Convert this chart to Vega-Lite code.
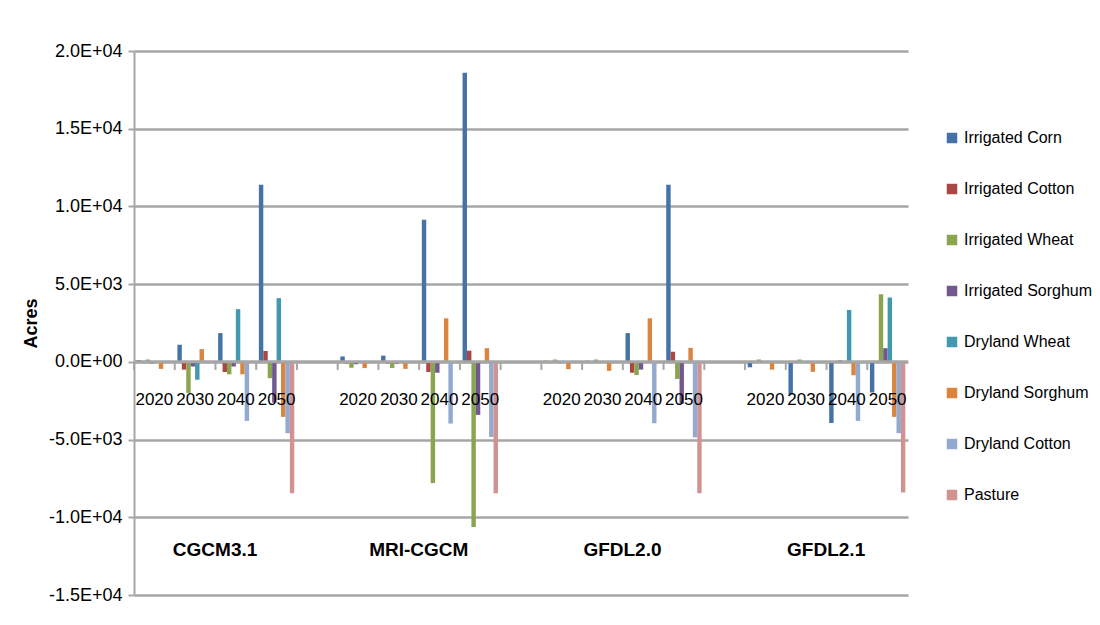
{
  "$schema": "https://vega.github.io/schema/vega-lite/v6.json",
  "width": 774,
  "height": 544,
  "padding": {"left": 22, "top": 42, "right": 5, "bottom": 5},
  "background": "white",
  "config": {
    "view": {"stroke": null},
    "font": "Liberation Sans"
  },
  "layer": [
    {
      "data": {
        "values": [
          {"model": "CGCM3.1", "year": "2020", "crop": "Irrigated Corn", "acres": 120},
          {"model": "CGCM3.1", "year": "2020", "crop": "Irrigated Cotton", "acres": -80},
          {"model": "CGCM3.1", "year": "2020", "crop": "Irrigated Wheat", "acres": 150},
          {"model": "CGCM3.1", "year": "2020", "crop": "Irrigated Sorghum", "acres": -100},
          {"model": "CGCM3.1", "year": "2020", "crop": "Dryland Wheat", "acres": 60},
          {"model": "CGCM3.1", "year": "2020", "crop": "Dryland Sorghum", "acres": -450},
          {"model": "CGCM3.1", "year": "2020", "crop": "Dryland Cotton", "acres": -60},
          {"model": "CGCM3.1", "year": "2020", "crop": "Pasture", "acres": -40},
          {"model": "CGCM3.1", "year": "2030", "crop": "Irrigated Corn", "acres": 1100},
          {"model": "CGCM3.1", "year": "2030", "crop": "Irrigated Cotton", "acres": -500},
          {"model": "CGCM3.1", "year": "2030", "crop": "Irrigated Wheat", "acres": -2000},
          {"model": "CGCM3.1", "year": "2030", "crop": "Irrigated Sorghum", "acres": -300},
          {"model": "CGCM3.1", "year": "2030", "crop": "Dryland Wheat", "acres": -1150},
          {"model": "CGCM3.1", "year": "2030", "crop": "Dryland Sorghum", "acres": 820},
          {"model": "CGCM3.1", "year": "2030", "crop": "Dryland Cotton", "acres": -100},
          {"model": "CGCM3.1", "year": "2030", "crop": "Pasture", "acres": 50},
          {"model": "CGCM3.1", "year": "2040", "crop": "Irrigated Corn", "acres": 1850},
          {"model": "CGCM3.1", "year": "2040", "crop": "Irrigated Cotton", "acres": -650},
          {"model": "CGCM3.1", "year": "2040", "crop": "Irrigated Wheat", "acres": -800},
          {"model": "CGCM3.1", "year": "2040", "crop": "Irrigated Sorghum", "acres": -300},
          {"model": "CGCM3.1", "year": "2040", "crop": "Dryland Wheat", "acres": 3390},
          {"model": "CGCM3.1", "year": "2040", "crop": "Dryland Sorghum", "acres": -800},
          {"model": "CGCM3.1", "year": "2040", "crop": "Dryland Cotton", "acres": -3800},
          {"model": "CGCM3.1", "year": "2040", "crop": "Pasture", "acres": -50},
          {"model": "CGCM3.1", "year": "2050", "crop": "Irrigated Corn", "acres": 11400},
          {"model": "CGCM3.1", "year": "2050", "crop": "Irrigated Cotton", "acres": 700},
          {"model": "CGCM3.1", "year": "2050", "crop": "Irrigated Wheat", "acres": -1050},
          {"model": "CGCM3.1", "year": "2050", "crop": "Irrigated Sorghum", "acres": -2620},
          {"model": "CGCM3.1", "year": "2050", "crop": "Dryland Wheat", "acres": 4100},
          {"model": "CGCM3.1", "year": "2050", "crop": "Dryland Sorghum", "acres": -3540},
          {"model": "CGCM3.1", "year": "2050", "crop": "Dryland Cotton", "acres": -4590},
          {"model": "CGCM3.1", "year": "2050", "crop": "Pasture", "acres": -8450},
          {"model": "MRI-CGCM", "year": "2020", "crop": "Irrigated Corn", "acres": 350},
          {"model": "MRI-CGCM", "year": "2020", "crop": "Irrigated Cotton", "acres": -100},
          {"model": "MRI-CGCM", "year": "2020", "crop": "Irrigated Wheat", "acres": -380},
          {"model": "MRI-CGCM", "year": "2020", "crop": "Irrigated Sorghum", "acres": -150},
          {"model": "MRI-CGCM", "year": "2020", "crop": "Dryland Wheat", "acres": -50},
          {"model": "MRI-CGCM", "year": "2020", "crop": "Dryland Sorghum", "acres": -400},
          {"model": "MRI-CGCM", "year": "2020", "crop": "Dryland Cotton", "acres": -80},
          {"model": "MRI-CGCM", "year": "2020", "crop": "Pasture", "acres": -60},
          {"model": "MRI-CGCM", "year": "2030", "crop": "Irrigated Corn", "acres": 400},
          {"model": "MRI-CGCM", "year": "2030", "crop": "Irrigated Cotton", "acres": -100},
          {"model": "MRI-CGCM", "year": "2030", "crop": "Irrigated Wheat", "acres": -400},
          {"model": "MRI-CGCM", "year": "2030", "crop": "Irrigated Sorghum", "acres": -120},
          {"model": "MRI-CGCM", "year": "2030", "crop": "Dryland Wheat", "acres": -60},
          {"model": "MRI-CGCM", "year": "2030", "crop": "Dryland Sorghum", "acres": -450},
          {"model": "MRI-CGCM", "year": "2030", "crop": "Dryland Cotton", "acres": -60},
          {"model": "MRI-CGCM", "year": "2030", "crop": "Pasture", "acres": -50},
          {"model": "MRI-CGCM", "year": "2040", "crop": "Irrigated Corn", "acres": 9150},
          {"model": "MRI-CGCM", "year": "2040", "crop": "Irrigated Cotton", "acres": -650},
          {"model": "MRI-CGCM", "year": "2040", "crop": "Irrigated Wheat", "acres": -7800},
          {"model": "MRI-CGCM", "year": "2040", "crop": "Irrigated Sorghum", "acres": -700},
          {"model": "MRI-CGCM", "year": "2040", "crop": "Dryland Wheat", "acres": -50},
          {"model": "MRI-CGCM", "year": "2040", "crop": "Dryland Sorghum", "acres": 2800},
          {"model": "MRI-CGCM", "year": "2040", "crop": "Dryland Cotton", "acres": -3970},
          {"model": "MRI-CGCM", "year": "2040", "crop": "Pasture", "acres": -80},
          {"model": "MRI-CGCM", "year": "2050", "crop": "Irrigated Corn", "acres": 18600},
          {"model": "MRI-CGCM", "year": "2050", "crop": "Irrigated Cotton", "acres": 720},
          {"model": "MRI-CGCM", "year": "2050", "crop": "Irrigated Wheat", "acres": -10620},
          {"model": "MRI-CGCM", "year": "2050", "crop": "Irrigated Sorghum", "acres": -3410},
          {"model": "MRI-CGCM", "year": "2050", "crop": "Dryland Wheat", "acres": -50},
          {"model": "MRI-CGCM", "year": "2050", "crop": "Dryland Sorghum", "acres": 880},
          {"model": "MRI-CGCM", "year": "2050", "crop": "Dryland Cotton", "acres": -4830},
          {"model": "MRI-CGCM", "year": "2050", "crop": "Pasture", "acres": -8450},
          {"model": "GFDL2.0", "year": "2020", "crop": "Irrigated Corn", "acres": 80},
          {"model": "GFDL2.0", "year": "2020", "crop": "Irrigated Cotton", "acres": -60},
          {"model": "GFDL2.0", "year": "2020", "crop": "Irrigated Wheat", "acres": 150},
          {"model": "GFDL2.0", "year": "2020", "crop": "Irrigated Sorghum", "acres": -80},
          {"model": "GFDL2.0", "year": "2020", "crop": "Dryland Wheat", "acres": 60},
          {"model": "GFDL2.0", "year": "2020", "crop": "Dryland Sorghum", "acres": -470},
          {"model": "GFDL2.0", "year": "2020", "crop": "Dryland Cotton", "acres": -50},
          {"model": "GFDL2.0", "year": "2020", "crop": "Pasture", "acres": -40},
          {"model": "GFDL2.0", "year": "2030", "crop": "Irrigated Corn", "acres": 80},
          {"model": "GFDL2.0", "year": "2030", "crop": "Irrigated Cotton", "acres": -60},
          {"model": "GFDL2.0", "year": "2030", "crop": "Irrigated Wheat", "acres": 150},
          {"model": "GFDL2.0", "year": "2030", "crop": "Irrigated Sorghum", "acres": -60},
          {"model": "GFDL2.0", "year": "2030", "crop": "Dryland Wheat", "acres": 40},
          {"model": "GFDL2.0", "year": "2030", "crop": "Dryland Sorghum", "acres": -580},
          {"model": "GFDL2.0", "year": "2030", "crop": "Dryland Cotton", "acres": -40},
          {"model": "GFDL2.0", "year": "2030", "crop": "Pasture", "acres": -40},
          {"model": "GFDL2.0", "year": "2040", "crop": "Irrigated Corn", "acres": 1850},
          {"model": "GFDL2.0", "year": "2040", "crop": "Irrigated Cotton", "acres": -700},
          {"model": "GFDL2.0", "year": "2040", "crop": "Irrigated Wheat", "acres": -850},
          {"model": "GFDL2.0", "year": "2040", "crop": "Irrigated Sorghum", "acres": -500},
          {"model": "GFDL2.0", "year": "2040", "crop": "Dryland Wheat", "acres": -50},
          {"model": "GFDL2.0", "year": "2040", "crop": "Dryland Sorghum", "acres": 2800},
          {"model": "GFDL2.0", "year": "2040", "crop": "Dryland Cotton", "acres": -3950},
          {"model": "GFDL2.0", "year": "2040", "crop": "Pasture", "acres": -60},
          {"model": "GFDL2.0", "year": "2050", "crop": "Irrigated Corn", "acres": 11400},
          {"model": "GFDL2.0", "year": "2050", "crop": "Irrigated Cotton", "acres": 650},
          {"model": "GFDL2.0", "year": "2050", "crop": "Irrigated Wheat", "acres": -1100},
          {"model": "GFDL2.0", "year": "2050", "crop": "Irrigated Sorghum", "acres": -2700},
          {"model": "GFDL2.0", "year": "2050", "crop": "Dryland Wheat", "acres": -50},
          {"model": "GFDL2.0", "year": "2050", "crop": "Dryland Sorghum", "acres": 900},
          {"model": "GFDL2.0", "year": "2050", "crop": "Dryland Cotton", "acres": -4850},
          {"model": "GFDL2.0", "year": "2050", "crop": "Pasture", "acres": -8450},
          {"model": "GFDL2.1", "year": "2020", "crop": "Irrigated Corn", "acres": -350},
          {"model": "GFDL2.1", "year": "2020", "crop": "Irrigated Cotton", "acres": -60},
          {"model": "GFDL2.1", "year": "2020", "crop": "Irrigated Wheat", "acres": 150},
          {"model": "GFDL2.1", "year": "2020", "crop": "Irrigated Sorghum", "acres": -60},
          {"model": "GFDL2.1", "year": "2020", "crop": "Dryland Wheat", "acres": 60},
          {"model": "GFDL2.1", "year": "2020", "crop": "Dryland Sorghum", "acres": -500},
          {"model": "GFDL2.1", "year": "2020", "crop": "Dryland Cotton", "acres": -50},
          {"model": "GFDL2.1", "year": "2020", "crop": "Pasture", "acres": -40},
          {"model": "GFDL2.1", "year": "2030", "crop": "Irrigated Corn", "acres": -2080},
          {"model": "GFDL2.1", "year": "2030", "crop": "Irrigated Cotton", "acres": -60},
          {"model": "GFDL2.1", "year": "2030", "crop": "Irrigated Wheat", "acres": 150},
          {"model": "GFDL2.1", "year": "2030", "crop": "Irrigated Sorghum", "acres": -60},
          {"model": "GFDL2.1", "year": "2030", "crop": "Dryland Wheat", "acres": 50},
          {"model": "GFDL2.1", "year": "2030", "crop": "Dryland Sorghum", "acres": -640},
          {"model": "GFDL2.1", "year": "2030", "crop": "Dryland Cotton", "acres": -50},
          {"model": "GFDL2.1", "year": "2030", "crop": "Pasture", "acres": -40},
          {"model": "GFDL2.1", "year": "2040", "crop": "Irrigated Corn", "acres": -3930},
          {"model": "GFDL2.1", "year": "2040", "crop": "Irrigated Cotton", "acres": -60},
          {"model": "GFDL2.1", "year": "2040", "crop": "Irrigated Wheat", "acres": 120},
          {"model": "GFDL2.1", "year": "2040", "crop": "Irrigated Sorghum", "acres": -60},
          {"model": "GFDL2.1", "year": "2040", "crop": "Dryland Wheat", "acres": 3340},
          {"model": "GFDL2.1", "year": "2040", "crop": "Dryland Sorghum", "acres": -860},
          {"model": "GFDL2.1", "year": "2040", "crop": "Dryland Cotton", "acres": -3800},
          {"model": "GFDL2.1", "year": "2040", "crop": "Pasture", "acres": -40},
          {"model": "GFDL2.1", "year": "2050", "crop": "Irrigated Corn", "acres": -1970},
          {"model": "GFDL2.1", "year": "2050", "crop": "Irrigated Cotton", "acres": 60},
          {"model": "GFDL2.1", "year": "2050", "crop": "Irrigated Wheat", "acres": 4350},
          {"model": "GFDL2.1", "year": "2050", "crop": "Irrigated Sorghum", "acres": 880},
          {"model": "GFDL2.1", "year": "2050", "crop": "Dryland Wheat", "acres": 4140},
          {"model": "GFDL2.1", "year": "2050", "crop": "Dryland Sorghum", "acres": -3540},
          {"model": "GFDL2.1", "year": "2050", "crop": "Dryland Cotton", "acres": -4590},
          {"model": "GFDL2.1", "year": "2050", "crop": "Pasture", "acres": -8410}
        ]
      },
      "transform": [{"calculate": "datum.model + ' ' + datum.year", "as": "slot"}],
      "mark": {"type": "bar"},
      "encoding": {
        "x": {
          "field": "slot",
          "type": "nominal",
          "scale": {
            "domain": [
              "CGCM3.1 2020", "CGCM3.1 2030", "CGCM3.1 2040", "CGCM3.1 2050", "gap1",
              "MRI-CGCM 2020", "MRI-CGCM 2030", "MRI-CGCM 2040", "MRI-CGCM 2050", "gap2",
              "GFDL2.0 2020", "GFDL2.0 2030", "GFDL2.0 2040", "GFDL2.0 2050", "gap3",
              "GFDL2.1 2020", "GFDL2.1 2030", "GFDL2.1 2040", "GFDL2.1 2050"
            ],
            "paddingInner": 0,
            "paddingOuter": 0
          },
          "axis": null
        },
        "xOffset": {
          "field": "crop",
          "type": "nominal",
          "scale": {
            "domain": ["Irrigated Corn", "Irrigated Cotton", "Irrigated Wheat", "Irrigated Sorghum", "Dryland Wheat", "Dryland Sorghum", "Dryland Cotton", "Pasture"],
            "paddingInner": 0,
            "paddingOuter": 0.6
          }
        },
        "y": {
          "field": "acres",
          "type": "quantitative",
          "scale": {"domain": [-15000, 20000], "nice": false},
          "axis": {
            "values": [-15000, -10000, -5000, 0, 5000, 10000, 15000, 20000],
            "labelExpr": "datum.value == 20000 ? '2.0E+04' : datum.value == 15000 ? '1.5E+04' : datum.value == 10000 ? '1.0E+04' : datum.value == 5000 ? '5.0E+03' : datum.value == 0 ? '0.0E+00' : datum.value == -5000 ? '-5.0E+03' : datum.value == -10000 ? '-1.0E+04' : '-1.5E+04'",
            "title": "Acres",
            "titleFontWeight": "bold",
            "titleFontSize": 18,
            "titleColor": "#000000",
            "titlePadding": 8,
            "labelFontSize": 18,
            "labelColor": "#000000",
            "labelPadding": 6,
            "grid": true,
            "gridColor": "#a6a6a6",
            "gridWidth": 2.5,
            "domainColor": "#a6a6a6",
            "domainWidth": 2,
            "tickColor": "#a6a6a6",
            "tickWidth": 2,
            "tickSize": 6
          }
        },
        "color": {
          "field": "crop",
          "type": "nominal",
          "scale": {
            "domain": ["Irrigated Corn", "Irrigated Cotton", "Irrigated Wheat", "Irrigated Sorghum", "Dryland Wheat", "Dryland Sorghum", "Dryland Cotton", "Pasture"],
            "range": ["#4572A7", "#AA4643", "#89A54E", "#71588F", "#4198AF", "#DB843D", "#93A9CF", "#D19392"]
          },
          "legend": {
            "title": null,
            "orient": "none",
            "legendX": 810,
            "legendY": 79,
            "padding": 0,
            "symbolType": "square",
            "symbolSize": 110,
            "symbolStrokeWidth": 0,
            "labelFontSize": 16,
            "labelColor": "#000000",
            "labelOffset": 4,
            "rowPadding": 35,
            "labelLimit": 300
          }
        }
      }
    },
    {
      "data": {"values": [{"baseline": "zero"}]},
      "mark": {"type": "rule", "color": "#a6a6a6", "strokeWidth": 3},
      "encoding": {"y": {"datum": 0, "type": "quantitative"}}
    },
    {
      "data": {
        "values": [
          {"slot": "CGCM3.1 2020"}, {"slot": "CGCM3.1 2030"}, {"slot": "CGCM3.1 2040"}, {"slot": "CGCM3.1 2050"}, {"slot": "gap1"},
          {"slot": "MRI-CGCM 2020"}, {"slot": "MRI-CGCM 2030"}, {"slot": "MRI-CGCM 2040"}, {"slot": "MRI-CGCM 2050"}, {"slot": "gap2"},
          {"slot": "GFDL2.0 2020"}, {"slot": "GFDL2.0 2030"}, {"slot": "GFDL2.0 2040"}, {"slot": "GFDL2.0 2050"}, {"slot": "gap3"},
          {"slot": "GFDL2.1 2020"}, {"slot": "GFDL2.1 2030"}, {"slot": "GFDL2.1 2040"}, {"slot": "GFDL2.1 2050"}
        ]
      },
      "mark": {"type": "rule", "color": "#a6a6a6", "strokeWidth": 2},
      "encoding": {
        "x": {"field": "slot", "type": "nominal", "bandPosition": 0},
        "y": {"datum": 0, "type": "quantitative"},
        "y2": {"datum": -520}
      }
    },
    {
      "data": {
        "values": [
          {"slot": "CGCM3.1 2020", "year": "2020"}, {"slot": "CGCM3.1 2030", "year": "2030"}, {"slot": "CGCM3.1 2040", "year": "2040"}, {"slot": "CGCM3.1 2050", "year": "2050"},
          {"slot": "MRI-CGCM 2020", "year": "2020"}, {"slot": "MRI-CGCM 2030", "year": "2030"}, {"slot": "MRI-CGCM 2040", "year": "2040"}, {"slot": "MRI-CGCM 2050", "year": "2050"},
          {"slot": "GFDL2.0 2020", "year": "2020"}, {"slot": "GFDL2.0 2030", "year": "2030"}, {"slot": "GFDL2.0 2040", "year": "2040"}, {"slot": "GFDL2.0 2050", "year": "2050"},
          {"slot": "GFDL2.1 2020", "year": "2020"}, {"slot": "GFDL2.1 2030", "year": "2030"}, {"slot": "GFDL2.1 2040", "year": "2040"}, {"slot": "GFDL2.1 2050", "year": "2050"}
        ]
      },
      "mark": {"type": "text", "fontSize": 17, "color": "#000000", "baseline": "middle", "dy": 38},
      "encoding": {
        "x": {"field": "slot", "type": "nominal"},
        "y": {"datum": 0, "type": "quantitative"},
        "text": {"field": "year"}
      }
    },
    {
      "data": {
        "values": [
          {"model": "CGCM3.1", "slot": "CGCM3.1 2030"},
          {"model": "MRI-CGCM", "slot": "MRI-CGCM 2030"},
          {"model": "GFDL2.0", "slot": "GFDL2.0 2030"},
          {"model": "GFDL2.1", "slot": "GFDL2.1 2030"}
        ]
      },
      "mark": {"type": "text", "fontWeight": "bold", "fontSize": 19, "color": "#000000", "dx": 20, "baseline": "middle"},
      "encoding": {
        "x": {"field": "slot", "type": "nominal"},
        "y": {"datum": -12100, "type": "quantitative"},
        "text": {"field": "model"}
      }
    }
  ]
}
